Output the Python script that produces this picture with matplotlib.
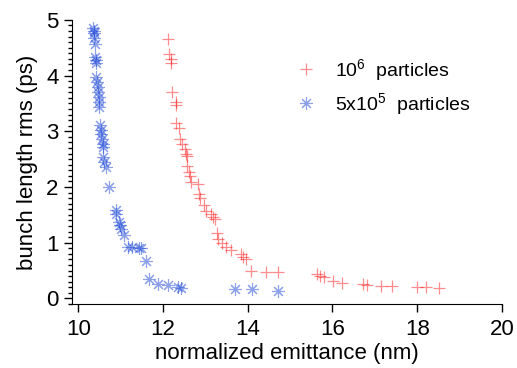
import matplotlib
matplotlib.use('Agg')
import matplotlib.pyplot as plt
from matplotlib.ticker import MultipleLocator

plt.rcParams['font.family'] = ['Liberation Sans', 'DejaVu Sans']
plt.rcParams['mathtext.fontset'] = 'custom'
plt.rcParams['mathtext.rm'] = 'Liberation Sans'
plt.rcParams['mathtext.it'] = 'Liberation Sans'

# 10^6 particles (red crosses)
emit_1e6 = [12.13, 12.15, 12.19, 12.20, 12.21, 12.30, 12.31, 12.31, 12.37, 12.41,
            12.46, 12.51, 12.55, 12.56, 12.57, 12.61, 12.64, 12.66, 12.82, 12.84,
            12.87, 12.96, 13.02, 13.13, 13.19, 13.23, 13.27, 13.31, 13.40, 13.49,
            13.60, 13.83, 13.90, 13.96, 14.07, 14.43, 14.72, 15.63, 15.71, 15.81,
            16.02, 16.23, 16.73, 16.81, 17.14, 17.41, 17.99, 18.21, 18.52]
blen_1e6 = [4.65, 4.38, 4.30, 4.22, 3.71, 3.53, 3.47, 3.14, 3.05, 2.87,
            2.78, 2.69, 2.60, 2.56, 2.38, 2.27, 2.20, 2.09, 2.06, 1.88,
            1.81, 1.67, 1.57, 1.51, 1.46, 1.42, 1.17, 1.07, 0.99, 0.92,
            0.86, 0.80, 0.74, 0.70, 0.50, 0.47, 0.47, 0.44, 0.41, 0.38,
            0.31, 0.28, 0.26, 0.24, 0.23, 0.23, 0.20, 0.20, 0.19]

# 5x10^5 particles (blue asterisks)
emit_5e5 = [10.35, 10.37, 10.38, 10.38, 10.39, 10.39, 10.41, 10.42, 10.43, 10.45,
            10.46, 10.47, 10.49, 10.50, 10.50, 10.51, 10.53, 10.54, 10.56, 10.58,
            10.58, 10.58, 10.61, 10.65, 10.72, 10.88, 10.90, 10.97, 10.99, 11.00,
            11.08, 11.17, 11.27, 11.44, 11.48, 11.61, 11.68, 11.89, 12.12, 12.36,
            12.43, 13.71, 14.11, 14.71]
blen_5e5 = [4.85, 4.80, 4.76, 4.68, 4.56, 4.34, 4.28, 4.22, 3.98, 3.89,
            3.80, 3.71, 3.62, 3.53, 3.44, 3.11, 3.03, 2.95, 2.87, 2.78,
            2.72, 2.54, 2.45, 2.36, 2.00, 1.58, 1.51, 1.38, 1.31, 1.24,
            1.13, 0.92, 0.92, 0.91, 0.90, 0.68, 0.34, 0.26, 0.24, 0.20,
            0.19, 0.17, 0.16, 0.14]

fig = plt.figure(figsize=(5.17, 3.68), dpi=100)
ax = fig.add_axes([0.139, 0.174, 0.832, 0.772])

ax.plot(emit_1e6, blen_1e6, linestyle='none', marker='+', markersize=9,
        markeredgewidth=0.9, color='#ff0000', alpha=0.45, label=r'10$^{6}$  particles')
ax.plot(emit_5e5, blen_5e5, linestyle='none', marker=(8, 2, 0), markersize=9,
        markeredgewidth=0.8, color='#1a45d6', alpha=0.5, label=r'5x10$^{5}$  particles')

ax.set_xlim(9.85, 20)
ax.set_ylim(-0.1, 5)
ax.xaxis.set_major_locator(MultipleLocator(2))
ax.yaxis.set_major_locator(MultipleLocator(1))
ax.yaxis.set_minor_locator(MultipleLocator(0.1))
ax.tick_params(axis='both', which='major', direction='out', length=6, width=1, labelsize=16)
ax.tick_params(axis='x', which='major', pad=5)
ax.tick_params(axis='y', which='minor', direction='out', length=3, width=1)

ax.spines['top'].set_visible(False)
ax.spines['right'].set_visible(False)
ax.spines['left'].set_bounds(-0.1, 5)

ax.set_xlabel('normalized emittance (nm)', fontsize=16, labelpad=2)
ax.set_ylabel('bunch length rms (ps)', fontsize=16, labelpad=6)

ax.legend(loc='upper left', bbox_to_anchor=(0.458, 0.93), frameon=False, fontsize=14,
          handletextpad=0.5, labelspacing=0.4)

fig.savefig('out.png', dpi=100)
